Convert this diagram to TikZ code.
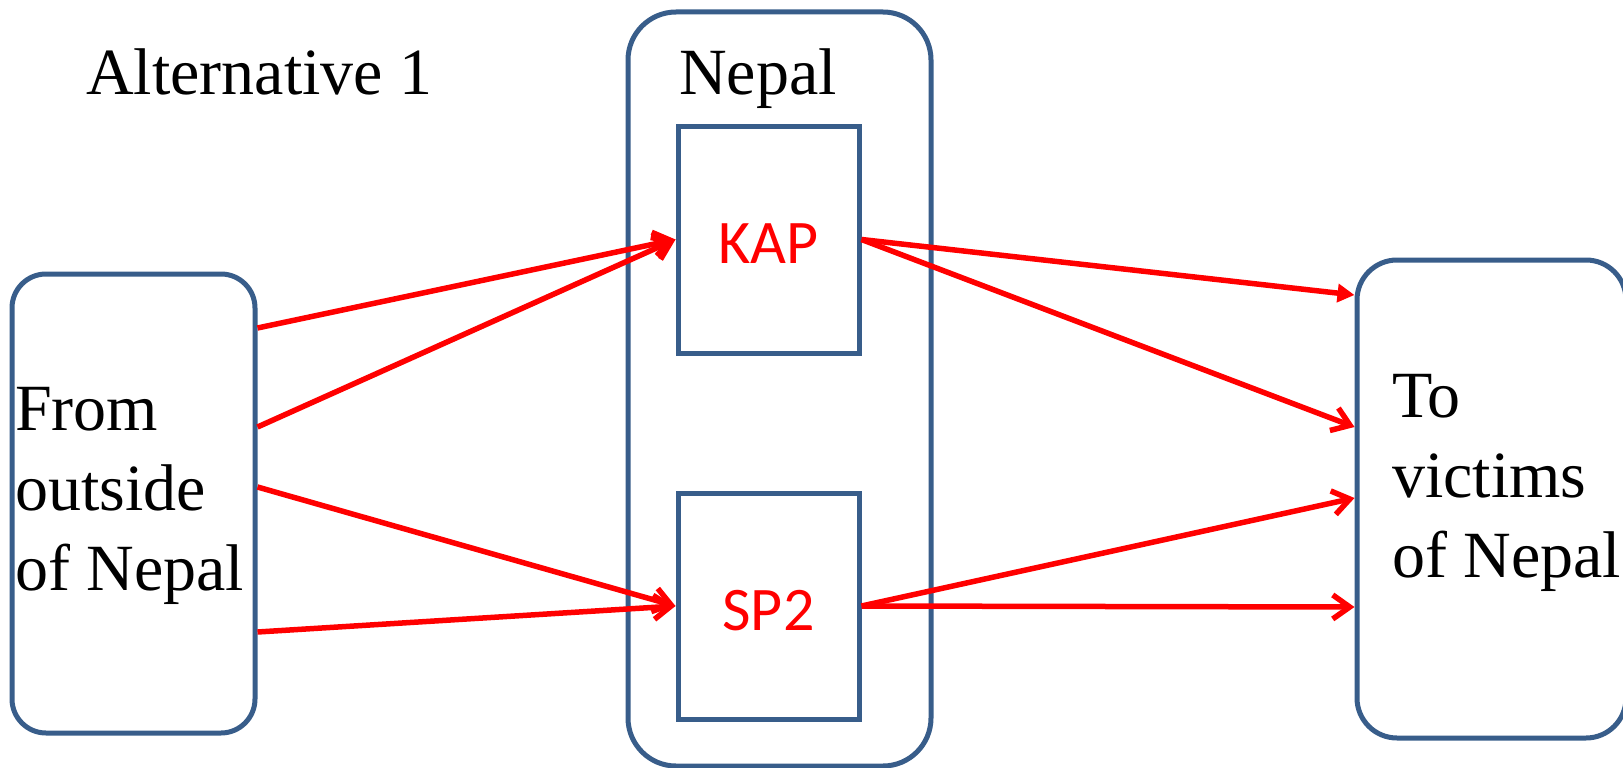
\documentclass[tikz,border=0pt]{standalone}
\usepackage{fontspec}
\setmainfont{Liberation Serif}
\newfontfamily\calibrifont{Carlito}
\usetikzlibrary{arrows.meta}
\definecolor{boxblue}{HTML}{385D8A}
\definecolor{flowred}{HTML}{FF0000}
\tikzset{
  roundbox/.style={draw=boxblue, line width=5pt, rounded corners=#1, fill=white},
  sqbox/.style={draw=boxblue, line width=5pt, minimum width=181pt, minimum height=227pt,
    text=flowred, font=\calibrifont\fontsize{62}{72}\selectfont, text height=48pt, text depth=0pt},
  bigtext/.style={font=\fontsize{66}{80}\selectfont, inner sep=0pt, align=left},
  flow/.style={draw=flowred, line width=5.5pt, -{Straight Barb[length=17pt,width=24pt,line width=5.5pt]}},
  flowtri/.style={draw=flowred, line width=5.5pt, -{Triangle[length=17pt,width=18pt]}}
}
\begin{document}
\begin{tikzpicture}[x=1pt,y=-1pt]
\useasboundingbox (0,0) rectangle (1623,768);
% containers
\node[roundbox=34pt, minimum width=243pt, minimum height=459pt] (L) at (133.5,503.5) {};
\node[roundbox=48pt, minimum width=303pt, minimum height=754pt] (N) at (779.5,389) {};
\node[roundbox=40pt, minimum width=269pt, minimum height=478pt] (R) at (1491.5,499) {};
% inner boxes
\node[sqbox] (KAP) at (768.5,239.5) {KAP};
\node[sqbox, minimum height=226pt] (SP2) at (768.5,606) {SP2};
% texts
\node[bigtext, anchor=base west] (alt) at (86,95) {Alternative 1};
\node[bigtext, anchor=base west] (nepal) at (679,95) {Nepal};
\node[bigtext, anchor=base west] (from) at (15,590) {From\\outside\\of Nepal};
\node[bigtext, anchor=base west] (to) at (1392,577) {To\\victims\\of Nepal};
% connectors
\draw[flow] ([yshift=175.5pt]L.east) -- (KAP.west);
\draw[flow] ([yshift=76.5pt]L.east) -- (KAP.west);
\draw[flow] ([yshift=16.5pt]L.east) -- (SP2.west);
\draw[flow] ([yshift=-128.5pt]L.east) -- (SP2.west);
\draw[flowtri] (KAP.east) -- ([yshift=204pt]R.west);
\draw[flow] (KAP.east) -- ([yshift=72pt]R.west);
\draw[flow] (SP2.east) -- ([yshift=1pt]R.west);
\draw[flow] (SP2.east) -- ([yshift=-108pt]R.west);
\end{tikzpicture}
\end{document}
